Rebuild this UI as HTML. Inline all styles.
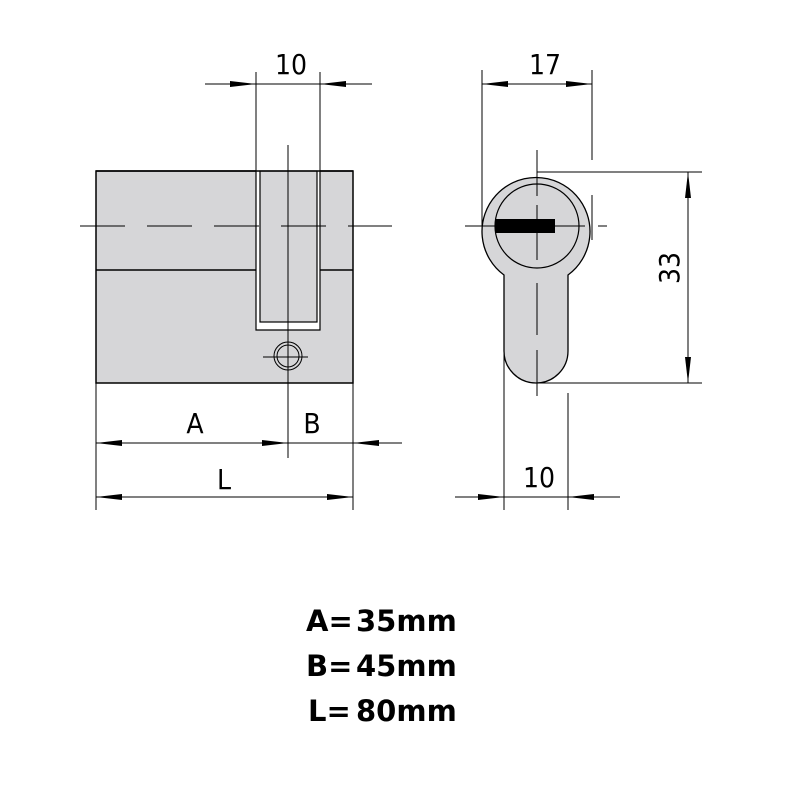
<!DOCTYPE html>
<html><head><style>html,body{margin:0;padding:0;background:#fff}svg{display:block}</style></head>
<body>
<svg width="800" height="800" viewBox="0 0 800 800" xmlns="http://www.w3.org/2000/svg">
<defs>
<marker id="ar" viewBox="0 0 26 6" refX="26" refY="3" markerWidth="26" markerHeight="6" markerUnits="userSpaceOnUse" orient="auto"><path d="M0,0 L26,3 L0,6 Z" fill="#000"/></marker>
</defs>
<g stroke="#000" stroke-width="1" fill="none">
<rect x="96" y="171" width="257" height="212" fill="#d6d6d8" stroke-width="1.5"/>
<line x1="96" y1="270" x2="353" y2="270" stroke-width="1.5"/>
<rect x="256" y="160" width="64" height="170" fill="#fff" stroke="none"/>
<polyline points="256,171 256,330 320,330 320,171" stroke-width="1.2"/>
<rect x="260" y="171" width="57" height="151" fill="#d6d6d8" stroke-width="1.2"/>
<line x1="96" y1="171" x2="353" y2="171" stroke-width="1.5"/>
<line x1="80" y1="226" x2="392" y2="226" stroke-dasharray="45,22"/>
<line x1="288" y1="145" x2="288" y2="458"/>
<circle cx="288" cy="356" r="14"/>
<circle cx="288" cy="356" r="11"/>
<line x1="263" y1="357" x2="308" y2="357"/>
<line x1="256" y1="72" x2="256" y2="171"/>
<line x1="320" y1="72" x2="320" y2="171"/>
<line x1="205" y1="84" x2="256" y2="84" marker-end="url(#ar)"/>
<line x1="372" y1="84" x2="320" y2="84" marker-end="url(#ar)"/>
<line x1="256" y1="84" x2="320" y2="84"/>
<line x1="96" y1="383" x2="96" y2="510"/>
<line x1="353" y1="383" x2="353" y2="510"/>
<line x1="150" y1="443" x2="96" y2="443" marker-end="url(#ar)"/>
<line x1="96" y1="443" x2="288" y2="443" marker-end="url(#ar)"/>
<line x1="402" y1="443" x2="353" y2="443" marker-end="url(#ar)"/>
<line x1="288" y1="443" x2="353" y2="443"/>
<line x1="200" y1="497" x2="96" y2="497" marker-end="url(#ar)"/>
<line x1="96" y1="497" x2="353" y2="497" marker-end="url(#ar)"/>
<path d="M 504,275 A 54 54 0 1 1 568,275 L 568,351 A 32 32 0 0 1 504,351 Z" fill="#d6d6d8" stroke-width="1.3"/>
<circle cx="537" cy="226" r="42" stroke-width="1.2"/>
<rect x="495" y="219" width="60" height="14" fill="#000" stroke="none"/>
<line x1="465" y1="226" x2="585" y2="226"/>
<line x1="598" y1="226" x2="607" y2="226"/>
<line x1="537" y1="150" x2="537" y2="196"/>
<line x1="537" y1="205" x2="537" y2="260"/>
<line x1="537" y1="283" x2="537" y2="335"/>
<line x1="537" y1="350" x2="537" y2="396"/>
<line x1="482" y1="70" x2="482" y2="226"/>
<line x1="592" y1="70" x2="592" y2="160"/>
<line x1="592" y1="195" x2="592" y2="240"/>
<line x1="537" y1="84" x2="482" y2="84" marker-end="url(#ar)"/>
<line x1="537" y1="84" x2="592" y2="84" marker-end="url(#ar)"/>
<line x1="537" y1="172" x2="702" y2="172"/>
<line x1="537" y1="383" x2="702" y2="383"/>
<line x1="688" y1="277" x2="688" y2="172" marker-end="url(#ar)"/>
<line x1="688" y1="277" x2="688" y2="383" marker-end="url(#ar)"/>
<line x1="504" y1="351" x2="504" y2="510"/>
<line x1="568" y1="393" x2="568" y2="510"/>
<line x1="455" y1="497" x2="504" y2="497" marker-end="url(#ar)"/>
<line x1="620" y1="497" x2="568" y2="497" marker-end="url(#ar)"/>
<line x1="504" y1="497" x2="568" y2="497"/>
</g>
<g font-family="'DejaVu Sans Condensed','Liberation Sans',sans-serif" font-size="28" fill="#000" text-anchor="middle">
<text x="291" y="74">10</text>
<text x="545" y="74">17</text>
<text x="539" y="487">10</text>
<text x="195" y="433">A</text>
<text x="312" y="433">B</text>
<text x="224" y="489">L</text>
<text transform="translate(679,268) rotate(-90)">33</text>
</g>
<g font-family="'DejaVu Sans','Liberation Sans',sans-serif" font-weight="bold" font-size="29" fill="#000">
<text x="306" y="631">A=</text><text x="356" y="631">35mm</text>
<text x="306" y="676">B=</text><text x="356" y="676">45mm</text>
<text x="308" y="721">L=</text><text x="356" y="721">80mm</text>
</g>
</svg>
</body></html>
